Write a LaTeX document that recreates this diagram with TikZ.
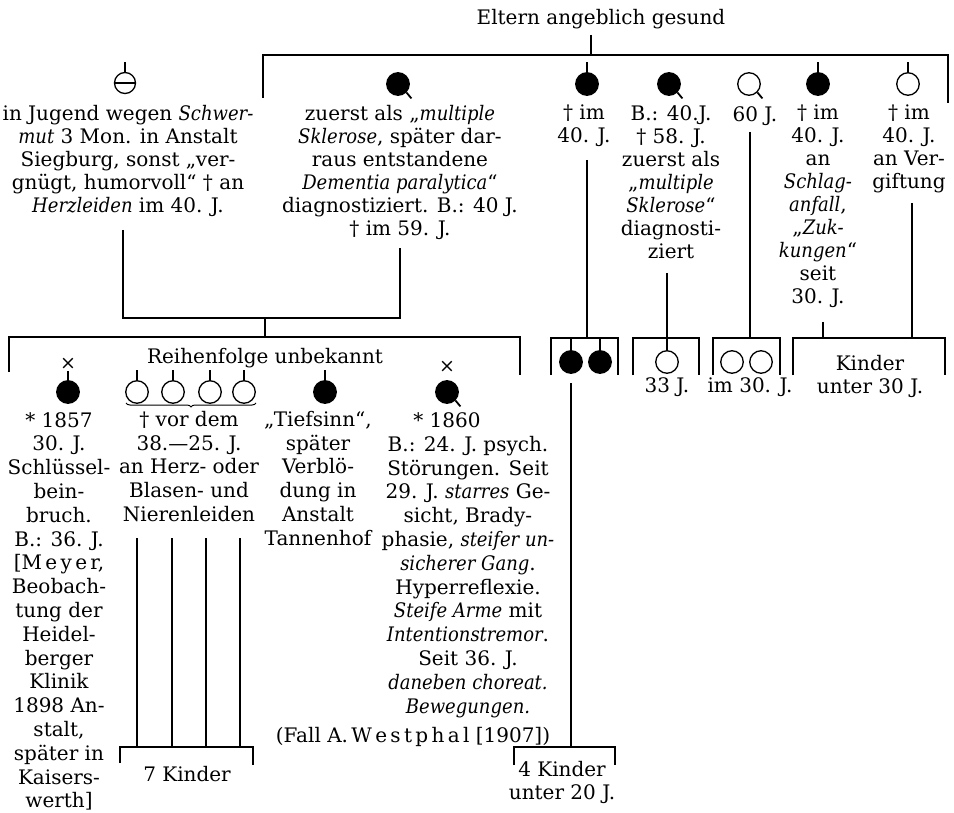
\documentclass[tikz,border=0pt]{standalone}
\usepackage{fontspec}
\setmainfont{DejaVu Serif}[ItalicFeatures={FakeStretch=0.9}]
\usetikzlibrary{decorations.pathreplacing}
\begin{document}
\begin{tikzpicture}[x=1pt,y=-1pt,
  txt/.style={align=center, inner sep=0pt, anchor=north,
    font=\fontsize{20}{23}\selectfont, execute at begin node=\strut},
  txtb/.style={txt, font=\fontsize{20}{23.8}\selectfont},
  bar/.style={line width=2.7pt},
  stem/.style={line width=1.6pt},
  sym/.style={circle, draw, line width=1.3pt, minimum size=22.5pt, inner sep=0pt},
  aff/.style={sym, fill=black},
  una/.style={sym, fill=white},
  tailline/.style={line width=1.8pt},
  cross/.style={inner sep=0pt, font=\fontsize{19}{19}\selectfont},
]
\useasboundingbox (0,0) rectangle (954,813);

% ---------- parents and sibship line ----------
\node[txt] (eltern) at (601,8) {Eltern angeblich gesund};
\coordinate (elternTop) at (591,35);
\coordinate (elternBar) at (591,55);
\coordinate (sibL) at (263,55);
\coordinate (sibR) at (948,55);
\coordinate (sibLe) at (263,98);
\coordinate (sibRe) at (948,103);
\draw[bar] (elternTop) -- (elternBar);
\draw[bar] (sibLe) -- (sibL) -- (sibR) -- (sibRe);

% ---------- second generation ----------
\node[una, minimum size=21pt] (s1) at (125,83) {};
\draw[line width=1.3pt] (s1.west) -- (s1.east);
\draw[stem] (s1.north) -- ++(0,-10);
\node[aff] (s2) at (398,84) {};
\draw[tailline] (s2.south east) -- ++(5,6);
\node[aff] (s3) at (587,84) {};
\draw[stem] (s3.north) -- ++(0,-10);
\node[aff] (s4) at (669,84) {};
\draw[tailline] (s4.south east) -- ++(5,6);
\node[una] (s5) at (749,84) {};
\draw[tailline] (s5.south east) -- ++(5,6);
\node[aff] (s6) at (818,84) {};
\draw[stem] (s6.north) -- ++(0,-10);
\node[una] (s7) at (908,84) {};
\draw[stem] (s7.north) -- ++(0,-10);

\node[txt] (p1) at (128,105) {in Jugend wegen \textit{Schwer-}\\
  \textit{mut} 3 Mon. in Anstalt\\Siegburg, sonst „ver-\\
  gnügt, humorvoll“ † an\\\textit{Herzleiden} im 40. J.};
\node[txt] (p2) at (400,105) {zuerst als „\textit{multiple}\\
  \textit{Sklerose}, später dar-\\raus entstandene\\
  \textit{Dementia paralytica}“\\diagnostiziert. B.: 40 J.\\† im 59. J.};
\node[txt] (p3) at (584,105) {† im\\40. J.};
\node[txt] (p4) at (671,105) {B.: 40.J.\\† 58. J.\\zuerst als\\„\textit{multiple}\\
  \textit{Sklerose}“\\diagnosti-\\ziert};
\node[txt] (p5) at (755,105) {60 J.};
\node[txt] (p6) at (818,105) {† im\\40. J.\\an\\\textit{Schlag-}\\\textit{anfall},\\
  „\textit{Zuk-}\\\textit{kungen}“\\seit\\30. J.};
\node[txt] (p7) at (909,105) {† im\\40. J.\\an Ver-\\giftung};

% ---------- marriage of the first two and their children ----------
\coordinate (m1L) at (123,230);
\coordinate (m1Lb) at (123,318);
\coordinate (m1R) at (400,248);
\coordinate (m1Rb) at (400,318);
\coordinate (m1C) at (265,318);
\coordinate (kC) at (265,337);
\draw[bar] (m1L) -- (m1Lb) -- (m1Rb) -- (m1R);
\draw[bar] (m1C) -- (kC);
\coordinate (kL) at (9,372);
\coordinate (kLt) at (9,337);
\coordinate (kRt) at (520,337);
\coordinate (kR) at (520,375);
\draw[bar] (kL) -- (kLt) -- (kRt) -- (kR);
\node[txt] (reihe) at (265,347) {Reihenfolge unbekannt};

% child 1
\node[cross] (x1) at (68,364) {×};
\node[aff] (c1) at (68,392) {};
\draw[stem] (c1.north) -- ++(0,-9);
\node[txtb] (t1) at (59,412) {* 1857\\30. J.\\Schlüssel-\\bein-\\bruch.\\B.: 36. J.\\
  {[}M\,e\,y\,e\,r,\\Beobach-\\tung der\\Heidel-\\berger\\Klinik\\1898 An-\\stalt,\\
  später in\\Kaisers-\\werth]};

% four siblings
\node[una] (c2a) at (137,392) {};
\node[una] (c2b) at (173,392) {};
\node[una] (c2c) at (210,392) {};
\node[una] (c2d) at (244,392) {};
\foreach \n in {c2a,c2b,c2c,c2d} {\draw[stem] (\n.north) -- ++(0,-10);}
\coordinate (brL) at (126,403);
\coordinate (brR) at (256,403);
\draw[decorate, decoration={brace, mirror, amplitude=4pt}, line width=1pt] (brL) -- (brR);
\node[txtb] (t2) at (189,411) {† vor dem\\38.—25. J.\\an Herz- oder\\Blasen- und\\Nierenleiden};
\foreach \xx/\nm in {137/a,172/b,206/c,240/d} {
  \coordinate (g\nm t) at (\xx,538);
  \coordinate (g\nm b) at (\xx,747);
  \draw[bar] (g\nm t) -- (g\nm b);
}
\coordinate (sevL) at (120,763);
\coordinate (sevLt) at (120,747);
\coordinate (sevRt) at (253,747);
\coordinate (sevR) at (253,765);
\draw[bar] (sevL) -- (sevLt) -- (sevRt) -- (sevR);
\node[txt] (sieben) at (187,765) {7 Kinder};

% child 3
\node[aff] (c3) at (325,392) {};
\draw[stem] (c3.north) -- ++(0,-10);
\node[txtb] (t3) at (318,411) {„Tiefsinn“,\\später\\Verblö-\\dung in\\Anstalt\\Tannenhof};

% child 4
\node[cross] (x4) at (447,367) {×};
\node[aff] (c4) at (447,392) {};
\draw[tailline] (c4.south east) -- ++(5,6);
\node[txt] (t4a) at (447,411) {* 1860};
\node[txtb] (t4) at (468,436) {B.: 24. J. psych.\\Störungen. Seit\\29. J. \textit{starres} Ge-\\
  sicht, Brady-\\phasie, \textit{steifer un-}\\\textit{sicherer Gang}.\\Hyperreflexie.\\
  \textit{Steife Arme} mit\\\textit{Intentionstremor}.\\Seit 36. J.\\
  \textit{daneben choreat.}\\\textit{Bewegungen.}};
\node[txt] (fall) at (413,726) {(Fall A.\,W\,e\,s\,t\,p\,h\,a\,l [1907])};

% ---------- descendants of the brother dead at 40 ----------
\coordinate (p3a) at (587,160);
\coordinate (p3b) at (587,338);
\draw[bar] (p3a) -- (p3b);
\coordinate (bAl) at (551,375);
\coordinate (bAlt) at (551,338);
\coordinate (bArt) at (618,338);
\coordinate (bAr) at (618,375);
\draw[bar] (bAl) -- (bAlt) -- (bArt) -- (bAr);
\node[aff] (d1) at (571,362) {};
\node[aff] (d2) at (600,362) {};
\draw[stem] (d1.north) -- (d1.north |- bAlt);
\draw[stem] (d2.north) -- (d2.north |- bAlt);
\coordinate (d1low) at (571,383);
\coordinate (d1bar) at (571,747);
\draw[bar] (d1low) -- (d1bar);
\coordinate (vkL) at (514,765);
\coordinate (vkLt) at (514,747);
\coordinate (vkRt) at (615,747);
\coordinate (vkR) at (615,765);
\draw[bar] (vkL) -- (vkLt) -- (vkRt) -- (vkR);
\node[txt] (vier) at (562,761) {4 Kinder\\unter 20 J.};

% ---------- descendants of the brother dead at 58 ----------
\coordinate (p4a) at (667,273);
\coordinate (p4b) at (667,338);
\draw[bar] (p4a) -- (p4b);
\coordinate (bBl) at (633,375);
\coordinate (bBlt) at (633,338);
\coordinate (bBrt) at (699,338);
\coordinate (bBr) at (699,375);
\draw[bar] (bBl) -- (bBlt) -- (bBrt) -- (bBr);
\node[una] (e1) at (667,362) {};
\draw[stem] (e1.north) -- (e1.north |- bBlt);
\node[txt] (e1t) at (667,376) {33 J.};

% ---------- descendants of the sixty-year-old ----------
\coordinate (p5a) at (750,132);
\coordinate (p5b) at (750,338);
\draw[bar] (p5a) -- (p5b);
\coordinate (bCl) at (713,375);
\coordinate (bClt) at (713,338);
\coordinate (bCrt) at (780,338);
\coordinate (bCr) at (780,375);
\draw[bar] (bCl) -- (bClt) -- (bCrt) -- (bCr);
\node[una] (f1) at (732,362) {};
\node[una] (f2) at (761,362) {};
\node[txt] (f1t) at (750,376) {im 30. J.};

% ---------- children of the last two ----------
\coordinate (p6a) at (823,322);
\coordinate (p6b) at (823,338);
\draw[bar] (p6a) -- (p6b);
\coordinate (p7a) at (912,203);
\coordinate (p7b) at (912,338);
\draw[bar] (p7a) -- (p7b);
\coordinate (bDl) at (793,375);
\coordinate (bDlt) at (793,338);
\coordinate (bDrt) at (945,338);
\coordinate (bDr) at (945,375);
\draw[bar] (bDl) -- (bDlt) -- (bDrt) -- (bDr);
\node[txt] (kinder30) at (870,355) {Kinder\\unter 30 J.};
\end{tikzpicture}
\end{document}
